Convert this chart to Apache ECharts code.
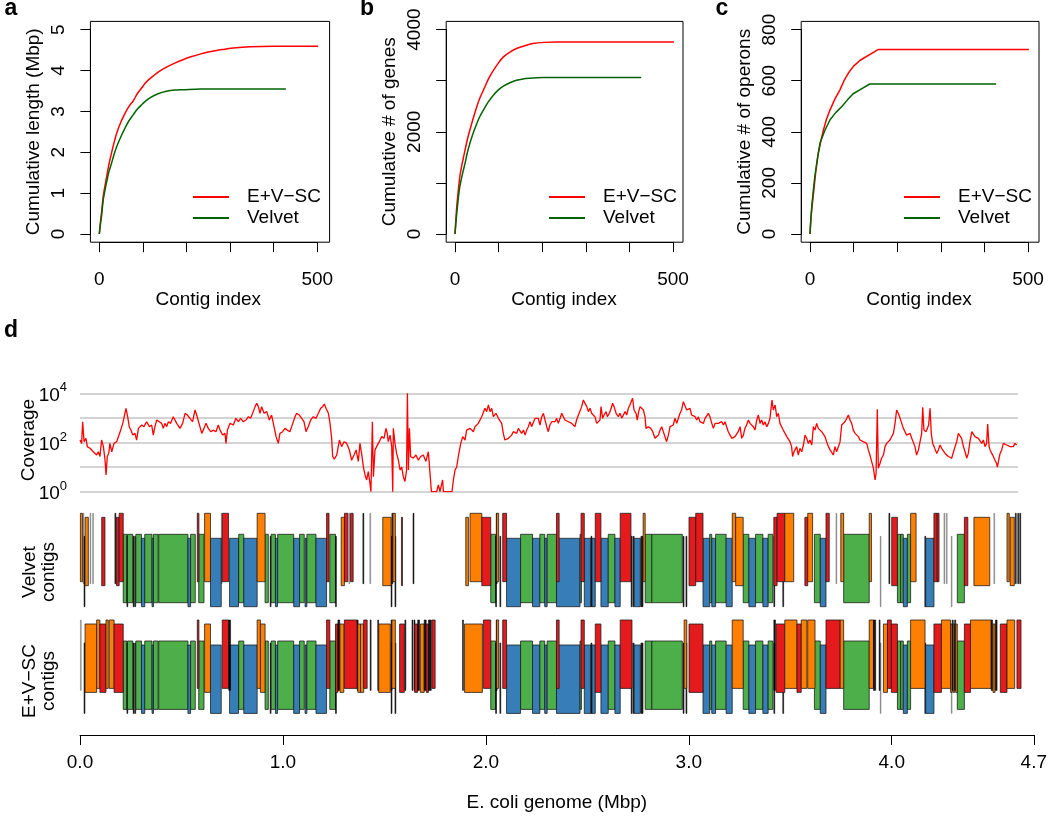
<!DOCTYPE html>
<html><head><meta charset="utf-8">
<script src="https://cdn.jsdelivr.net/npm/echarts@6/dist/echarts.min.js"></script>
<style>html,body{margin:0;padding:0;background:#fff}#c{width:1050px;height:822px}</style>
</head><body><div id="c"></div>
<script>
// ---------- Panel a/b/c data: [contig index, cumulative value] ----------
const lenEVSC = [[0,0],[3,0.33],[5,0.51],[9,0.92],[13,1.18],[17,1.41],[22,1.70],[28,1.98],[34,2.24],[40,2.47],[50,2.75],[59,2.95],[68,3.12],[78,3.26],[87,3.43],[97,3.57],[106,3.70],[116,3.80],[135,3.96],[154,4.08],[173,4.18],[193,4.27],[212,4.34],[231,4.40],[250,4.45],[269,4.49],[288,4.52],[307,4.55],[346,4.58],[400,4.59],[502,4.59]];
const lenVelvet = [[0,0],[3,0.27],[5,0.42],[9,0.83],[13,1.07],[17,1.28],[22,1.52],[28,1.73],[34,1.95],[40,2.14],[50,2.39],[59,2.59],[68,2.77],[78,2.92],[87,3.05],[97,3.16],[106,3.25],[116,3.33],[135,3.43],[154,3.49],[173,3.52],[193,3.53],[231,3.55],[428,3.55]];
const genesEVSC = [[0,0],[2,290],[4,534],[7,800],[11,1120],[17,1400],[23,1640],[28,1840],[34,2030],[42,2270],[50,2490],[57,2660],[65,2810],[76,3020],[88,3200],[99,3340],[111,3466],[126,3560],[141,3630],[160,3685],[179,3726],[205,3750],[233,3759],[502,3759]];
const genesVelvet = [[0,0],[2,210],[4,404],[7,650],[11,925],[17,1170],[23,1381],[28,1580],[34,1772],[42,1980],[50,2163],[57,2300],[65,2423],[76,2580],[88,2717],[99,2815],[111,2893],[126,2960],[141,3010],[156,3035],[172,3049],[187,3058],[202,3062],[427,3062]];
const operonsEVSC = [[0,0],[2,60],[4,95],[8,159],[13,240],[19,316],[25,365],[31,408],[38,450],[46,486],[57,528],[69,565],[78,600],[88,630],[100,657],[115,680],[156,722],[502,722]];
const operonsVelvet = [[0,0],[2,60],[4,107],[7,160],[11,225],[17,295],[23,356],[34,405],[46,447],[59,475],[73,499],[86,525],[99,549],[118,568],[137,587],[427,587]];
const seriesNames = ['E+V\u2212SC', 'Velvet'];

// ---------- Panel d: coverage along genome (Mbp, coverage) ----------
const covPos = [0.000,0.008,0.013,0.020,0.029,0.036,0.049,0.065,0.082,0.090,0.098,0.106,0.115,0.123,0.128,0.134,0.141,0.147,0.156,0.167,0.180,0.188,0.200,0.210,0.216,0.226,0.234,0.242,0.250,0.259,0.270,0.278,0.287,0.295,0.303,0.314,0.327,0.341,0.352,0.360,0.368,0.377,0.390,0.401,0.409,0.417,0.426,0.434,0.445,0.458,0.475,0.491,0.504,0.516,0.527,0.540,0.553,0.565,0.573,0.589,0.598,0.609,0.619,0.630,0.642,0.655,0.668,0.679,0.688,0.701,0.712,0.717,0.724,0.737,0.753,0.766,0.778,0.789,0.802,0.815,0.827,0.838,0.851,0.860,0.868,0.876,0.884,0.892,0.904,0.917,0.930,0.941,0.953,0.963,0.974,0.982,0.995,1.007,1.018,1.031,1.045,1.056,1.064,1.077,1.089,1.100,1.110,1.121,1.133,1.146,1.159,1.171,1.182,1.192,1.200,1.208,1.220,1.228,1.236,1.241,1.249,1.261,1.274,1.285,1.297,1.310,1.323,1.334,1.346,1.356,1.367,1.375,1.383,1.392,1.400,1.408,1.416,1.424,1.429,1.436,1.441,1.449,1.457,1.470,1.482,1.493,1.503,1.509,1.514,1.523,1.531,1.536,1.539,1.547,1.555,1.564,1.572,1.580,1.588,1.596,1.604,1.608,1.613,1.618,1.624,1.637,1.650,1.662,1.673,1.686,1.699,1.711,1.719,1.726,1.752,1.760,1.768,1.781,1.785,1.827,1.834,1.842,1.850,1.858,1.870,1.880,1.891,1.899,1.907,1.916,1.924,1.932,1.940,1.948,1.956,1.965,1.973,1.981,1.989,1.997,2.006,2.014,2.022,2.030,2.043,2.055,2.063,2.071,2.079,2.087,2.096,2.104,2.112,2.120,2.128,2.137,2.145,2.153,2.161,
2.169,2.178,2.186,2.194,2.202,2.210,2.218,2.227,2.235,2.243,2.251,2.259,2.268,2.276,2.284,2.292,2.300,2.308,2.317,2.325,2.333,2.341,2.349,2.358,2.366,2.374,2.382,2.390,2.399,2.407,2.415,2.423,2.431,2.439,2.448,2.456,2.464,2.472,2.480,2.489,2.497,2.505,2.513,2.521,2.529,2.538,2.546,2.554,2.559,2.567,2.574,2.584,2.590,2.600,2.606,2.616,2.623,2.633,2.644,2.652,2.661,2.669,2.677,2.685,2.693,2.701,2.710,2.714,2.721,2.731,2.737,2.744,2.751,2.759,2.767,2.775,2.780,2.791,2.803,2.813,2.824,2.832,2.841,2.849,2.857,2.865,2.873,2.881,2.890,2.898,2.906,2.914,2.922,2.931,2.939,2.947,2.955,2.963,2.972,2.980,2.988,2.996,3.004,3.013,3.021,3.029,3.037,3.045,3.053,3.062,3.070,3.078,3.086,3.094,3.103,3.111,3.119,3.127,3.135,3.144,3.152,3.160,3.168,3.176,3.184,3.193,3.201,3.209,3.217,3.225,3.233,3.242,3.250,3.258,3.266,3.274,3.283,3.291,3.299,3.307,3.315,3.324,3.332,3.340,3.348,3.356,3.364,3.373,3.381,3.389,3.394,3.399,3.405,3.414,3.422,3.430,3.438,3.446,3.454,3.463,3.471,3.479,3.487,3.495,3.500,3.507,3.513,3.520,3.528,3.536,3.545,3.553,3.561,3.569,3.577,3.585,3.594,3.602,3.610,3.618,3.626,3.635,3.643,3.651,3.659,3.667,3.676,3.684,3.692,3.700,3.708,3.716,3.725,3.733,3.741,3.749,3.757,3.766,3.774,3.782,3.790,3.798,3.807,3.815,3.823,3.831,3.839,3.847,3.856,3.864,3.872,3.880,3.888,3.897,3.905,3.910,3.916,3.921,3.929,3.937,3.946,3.954,3.962,3.970,3.978,3.987,3.995,4.003,4.011,4.019,4.028,4.036,4.044,4.052,4.060,4.068,4.077,4.085,4.093,4.101,4.109,4.118,4.126,4.134,4.139,4.145,4.155,4.162,4.168,4.175,4.181,4.188,4.195,4.199,4.208,4.216,4.224,4.232,4.240,4.249,4.257,4.265,4.273,4.281,4.289,4.298,4.306,4.314,4.322,4.330,4.339,4.347,4.355,4.363,4.371,4.380,4.388,4.396,4.404,4.412,4.420,4.429,4.437,4.445,4.453,4.458,4.465,4.470,4.478,4.486,4.494,4.502,4.506,4.512,4.519,4.527,4.535,4.543,4.551,4.560,4.568,4.576,4.584,4.592,4.600];
const covVal = [126,92,700,108,148,68,58,42,31,42,27,126,68,19,4.8,27,36,92,42,92,108,126,320,600,515,2450,1120,440,320,200,235,126,375,320,515,440,700,440,515,200,440,820,700,600,375,600,440,700,600,1120,600,375,600,1540,1310,960,700,2100,1310,440,235,375,600,375,275,320,275,515,320,200,235,92,320,600,515,960,700,960,700,820,1120,960,1800,2870,3920,2870,1540,2870,1540,1800,820,1310,440,173,92,235,275,375,320,275,600,1120,1540,1310,960,700,275,440,820,1120,960,1540,2450,2870,3680,2450,1540,600,148,27,21,31,126,68,108,92,50,19,31,50,17,92,36,10,4.8,3,6.5,2.2,1,700,4.1,50,68,108,173,148,375,235,108,200,68,1,375,92,36,19,7.6,10,4.1,2.6,7.6,10000,7.6,375,27,23,31,19,27,31,17,42,36,1,1,1.9,1,3,1,1,3,7.6,10,27,92,173,126,320,275,375,320,275,440,375,600,700,1120,1310,2450,1800,3350,1800,2450,1120,1540,960,1120,600,235,126,108,148,173,200,275,320,235,375,440,
235,320,200,320,440,700,440,515,960,820,
960,515,1120,1540,820,440,275,515,700,820,
700,960,600,960,1540,1120,820,960,700,820,
600,700,440,820,1310,1540,2870,5350,4580,2870,
1800,2450,1540,1800,1120,600,515,820,2870,960,
1310,1800,1120,1540,2100,3920,2870,1540,1120,1540,
960,1310,1800,1310,2450,3350,2870,6270,2100,1540,
820,1800,2870,3350,2100,1120,375,440,375,275,
148,126,200,320,440,275,173,108,200,440,
375,515,960,600,700,1540,2100,4580,3920,2100,
1800,2450,1310,1540,1120,820,1120,700,820,600,
960,1120,1540,1120,600,375,600,515,600,600,
700,515,700,820,275,200,148,126,173,148,
275,440,148,200,375,515,820,600,700,440,
320,820,1310,600,820,515,700,440,600,960,
2450,5350,2100,3350,1120,1540,600,700,320,235,
173,148,108,68,27,42,36,68,31,58,
42,79,200,148,92,126,79,440,320,600,
375,440,275,320,173,108,68,50,58,31,
68,42,68,108,515,600,700,960,1310,820,
600,320,235,200,173,126,148,108,108,92,
50,31,17,8.9,3,5.6,2230,8.9,14,23,
31,68,92,108,126,148,235,600,2100,1540,
960,600,375,275,200,173,235,148,126,68,
31,50,58,235,2700,320,275,375,515,2450,
235,92,68,58,36,50,79,58,50,36,
31,27,23,23,27,68,108,235,200,148,
68,42,23,36,108,275,235,173,200,148,
173,92,126,68,92,565,68,50,36,27,
19,14,10,19,36,50,92,108,79,92,
68,79,68,92,79];
const covTicks = [1, 100, 10000];
const genomeTicks = [0, 1, 2, 3, 4, 4.7];

// ---------- Panel d: contigs [start Mbp, end Mbp, class] ----------
// G/B: contigs in lower band (shared by both assemblies); O/R: upper band (h/l = staggered row); k/w: tiny contigs
const sharedContigs = [[0.020,0.023,'k'],[0.213,0.231,'G'],[0.231,0.234,'k'],[0.234,0.260,'G'],[0.262,0.265,'k'],[0.270,0.273,'k'],[0.275,0.303,'G'],[0.303,0.319,'B'],[0.319,0.355,'G'],[0.355,0.362,'B'],[0.362,0.385,'G'],[0.388,0.532,'G'],[0.532,0.545,'B'],[0.545,0.568,'G'],[0.585,0.611,'G'],[0.643,0.696,'B'],[0.737,0.781,'B'],[0.782,0.807,'G'],[0.807,0.873,'B'],[0.912,0.928,'G'],[0.937,0.940,'k'],[0.942,0.963,'G'],[0.963,0.973,'B'],[0.974,1.053,'G'],[1.053,1.082,'B'],[1.082,1.105,'G'],[1.109,1.118,'B'],[1.118,1.163,'G'],[1.163,1.215,'B'],[1.231,1.259,'G'],[1.259,1.262,'k'],[1.533,1.535,'k'],[1.552,1.555,'k'],[2.024,2.048,'G'],[2.048,2.052,'k'],[2.069,2.073,'k'],[2.102,2.171,'B'],[2.171,2.230,'G'],[2.230,2.266,'B'],[2.266,2.290,'G'],[2.290,2.302,'B'],[2.302,2.348,'G'],[2.348,2.464,'B'],[2.464,2.471,'G'],[2.485,2.518,'B'],[2.518,2.521,'k'],[2.523,2.539,'B'],[2.567,2.603,'B'],[2.603,2.636,'G'],[2.636,2.662,'B'],[2.716,2.721,'k'],[2.726,2.729,'k'],[2.731,2.761,'B'],[2.764,2.767,'k'],[2.770,2.773,'k'],[2.785,2.818,'G'],[2.818,2.968,'G'],[2.972,2.975,'k'],[2.986,2.989,'k'],[3.070,3.103,'B'],[3.103,3.113,'G'],[3.113,3.132,'B'],[3.132,3.184,'G'],[3.184,3.214,'B'],[3.268,3.296,'G'],[3.296,3.329,'B'],[3.329,3.365,'G'],[3.365,3.391,'B'],[3.391,3.414,'G'],[3.419,3.422,'k'],[3.463,3.466,'k'],[3.619,3.648,'G'],[3.648,3.676,'B'],[3.763,3.889,'G'],[3.943,3.945,'w'],[4.028,4.044,'G'],[4.044,4.057,'G'],[4.057,4.077,'B'],[4.077,4.093,'G'],[4.163,4.167,'k'],[4.167,4.208,'B'],[4.293,4.296,'w'],[4.323,4.358,'G']];
const velvetContigs = [[0.002,0.012,'Oh'],[0.015,0.016,'w'],[0.025,0.041,'Ol'],[0.049,0.050,'w'],[0.062,0.063,'w'],[0.107,0.123,'Rl'],[0.172,0.174,'k'],[0.180,0.193,'Rl'],[0.193,0.213,'Rh'],[0.578,0.586,'Rh'],[0.614,0.643,'Oh'],[0.696,0.699,'w'],[0.701,0.732,'Rh'],[0.873,0.912,'Oh'],[1.215,1.227,'Rh'],[1.287,1.303,'Ol'],[1.303,1.320,'Rh'],[1.325,1.328,'w'],[1.333,1.346,'Rh'],[1.394,1.396,'k'],[1.428,1.430,'w'],[1.492,1.533,'Ol'],[1.537,1.540,'k'],[1.542,1.554,'Oh'],[1.584,1.589,'Rl'],[1.641,1.644,'k'],[1.901,1.914,'Ol'],[1.922,1.980,'Oh'],[1.980,2.024,'Rl'],[2.051,2.053,'k'],[2.053,2.063,'Oh'],[2.083,2.102,'Rh'],[2.348,2.361,'Rh'],[2.469,2.485,'Rh'],[2.539,2.567,'Rh'],[2.662,2.715,'Rh'],[2.775,2.785,'Oh'],[3.001,3.034,'Rl'],[3.034,3.070,'Rh'],[3.214,3.231,'Oh'],[3.231,3.268,'Ol'],[3.419,3.435,'Rl'],[3.435,3.473,'Rh'],[3.473,3.517,'Oh'],[3.572,3.586,'Rl'],[3.586,3.610,'Oh'],[3.676,3.692,'Rh'],[3.725,3.727,'w'],[3.749,3.763,'Oh'],[3.889,3.900,'Oh'],[3.986,3.989,'k'],[4.000,4.028,'Rl'],[4.093,4.120,'Oh'],[4.208,4.224,'Rh'],[4.224,4.233,'Rh'],[4.257,4.260,'w'],[4.269,4.271,'w'],[4.358,4.375,'Rl'],[4.405,4.483,'Ol'],[4.503,4.505,'w'],[4.568,4.579,'Oh'],[4.584,4.604,'Ol'],[4.609,4.611,'k'],[4.621,4.623,'k'],[4.631,4.633,'k']];
const evscContigs = [[0.002,0.005,'w'],[0.025,0.082,'Ol'],[0.082,0.098,'Oh'],[0.098,0.128,'Rl'],[0.128,0.139,'Oh'],[0.144,0.168,'Oh'],[0.168,0.213,'Rl'],[0.578,0.586,'Rh'],[0.614,0.643,'Ol'],[0.701,0.732,'Rh'],[0.733,0.742,'k'],[0.873,0.889,'Oh'],[0.889,0.912,'Ol'],[1.215,1.231,'Rh'],[1.259,1.271,'Rl'],[1.271,1.280,'k'],[1.281,1.300,'Ol'],[1.303,1.366,'Rh'],[1.366,1.368,'k'],[1.369,1.382,'Ol'],[1.382,1.398,'Ol'],[1.398,1.415,'Rh'],[1.430,1.433,'k'],[1.467,1.470,'k'],[1.472,1.529,'Ol'],[1.533,1.535,'k'],[1.537,1.554,'Oh'],[1.575,1.598,'Rl'],[1.601,1.605,'k'],[1.636,1.640,'k'],[1.646,1.649,'k'],[1.649,1.664,'Rl'],[1.664,1.673,'k'],[1.677,1.696,'Ol'],[1.696,1.706,'k'],[1.706,1.717,'Rl'],[1.717,1.731,'k'],[1.734,1.750,'Rh'],[1.885,1.889,'k'],[1.895,1.983,'Ol'],[1.988,2.024,'Rh'],[2.051,2.053,'k'],[2.053,2.063,'Oh'],[2.083,2.102,'Rh'],[2.348,2.361,'Rh'],[2.469,2.485,'Rh'],[2.539,2.567,'Rl'],[2.662,2.720,'Rh'],[2.977,2.990,'Oh'],[3.001,3.070,'Rl'],[3.214,3.268,'Oh'],[3.419,3.427,'k'],[3.430,3.473,'Rl'],[3.473,3.533,'Oh'],[3.533,3.554,'Rl'],[3.554,3.582,'Oh'],[3.586,3.622,'Oh'],[3.676,3.746,'Rh'],[3.746,3.763,'Oh'],[3.889,3.910,'Oh'],[3.910,3.921,'k'],[3.938,3.940,'k'],[3.959,3.979,'Ol'],[3.979,3.998,'Rh'],[3.998,4.028,'Rl'],[4.093,4.164,'Oh'],[4.208,4.245,'Rl'],[4.245,4.290,'Oh'],[4.290,4.298,'Ol'],[4.298,4.303,'k'],[4.303,4.310,'Ol'],[4.310,4.315,'k'],[4.315,4.323,'Ol'],[4.358,4.388,'Rl'],[4.388,4.490,'Oh'],[4.490,4.497,'k'],[4.499,4.509,'Ol'],[4.511,4.519,'k'],[4.535,4.568,'Rl'],[4.568,4.606,'Oh'],[4.617,4.637,'Rh']];

// ---------- rendering ----------
const FONT = 'Liberation Sans, Arial, Helvetica, sans-serif';
const RED = '#FF0000', DKGREEN = '#006400';
const chart = echarts.init(document.getElementById('c'), null, {renderer: 'canvas'});

const panelCfg = [
  {left: 99.3, boxL: 90.4, boxR: 329.6, yMax: 5, yStep: 1, yLab: v => String(v), title: 'Cumulative length (Mbp)', d: [lenEVSC, lenVelvet], smooth: 0.3, legendLeft: 193},
  {left: 455, boxL: 446.2, boxR: 683, yMax: 4000, yStep: 1000, yLab: v => (v % 2000 === 0 ? String(v) : ''), title: 'Cumulative # of genes', d: [genesEVSC, genesVelvet], smooth: 0.3, legendLeft: 549},
  {left: 810, boxL: 801.2, boxR: 1039, yMax: 800, yStep: 200, yLab: v => String(v), title: 'Cumulative # of operons', d: [operonsEVSC, operonsVelvet], smooth: false, legendLeft: 904}
];
const GTOP = 29.6, GH = 204.4, BOXT = 21.4, BOXB = 242.2;

const grids = [], xAxes = [], yAxes = [], series = [], legends = [], graphics = [];
const txt = (extra) => Object.assign({color: '#000', fontFamily: FONT, fontSize: 19}, extra || {});

panelCfg.forEach((p, i) => {
  grids.push({left: p.left, top: GTOP, width: 218, height: GH});
  xAxes.push({gridIndex: i, type: 'value', min: 0, max: 500, interval: 100, offset: BOXB - (GTOP + GH),
    axisLine: {show: true, onZero: false, lineStyle: {color: '#000', width: 1}},
    axisTick: {show: true, length: 10, inside: false, lineStyle: {color: '#000', width: 1}},
    axisLabel: txt({interval: 0, margin: 28, formatter: v => (v === 0 || v === 500) ? String(v) : ''}),
    splitLine: {show: false},
    name: 'Contig index', nameLocation: 'middle', nameGap: 47, nameTextStyle: txt()});
  yAxes.push({gridIndex: i, type: 'value', min: 0, max: p.yMax, interval: p.yStep, offset: p.left - p.boxL,
    axisLine: {show: true, onZero: false, lineStyle: {color: '#000', width: 1}},
    axisTick: {show: true, length: 10, inside: false, lineStyle: {color: '#000', width: 1}},
    axisLabel: txt({rotate: 90, interval: 0, margin: 22, formatter: p.yLab}),
    splitLine: {show: false},
    name: p.title, nameLocation: 'middle', nameGap: 47, nameRotate: 90, nameTextStyle: txt()});
  [RED, DKGREEN].forEach((col, k) => {
    series.push({type: 'line', name: seriesNames[k], xAxisIndex: i, yAxisIndex: i, data: p.d[k],
      showSymbol: false, symbol: 'none', clip: false, smooth: p.smooth,
      lineStyle: {color: col, width: 1.5}, itemStyle: {color: col}, silent: true});
  });
  legends.push({left: p.legendLeft, top: 186.5, orient: 'vertical', padding: 0, itemGap: 0,
    itemWidth: 36, itemHeight: 2, icon: 'rect', selectedMode: false, data: seriesNames,
    textStyle: txt({lineHeight: 21, padding: [0, 0, 0, 13]})});
  graphics.push({type: 'rect', silent: true, z: 50,
    shape: {x: p.boxL, y: BOXT, width: p.boxR - p.boxL, height: BOXB - BOXT},
    style: {fill: 'none', stroke: '#000', lineWidth: 1}});
});

// coverage grid (index 3)
grids.push({left: 80, top: 393.3, width: 938, height: 98.4});
xAxes.push({gridIndex: 3, type: 'value', min: 0, max: 4.607, show: false});
yAxes.push({gridIndex: 3, type: 'log', logBase: 10, min: 1, max: 10000, splitNumber: 4,
  axisLine: {show: false, onZero: false}, axisTick: {show: false},
  splitLine: {show: true, lineStyle: {color: '#c4c4c4', width: 1.6}},
  axisLabel: {margin: 13, color: '#000', fontFamily: FONT,
    formatter: v => { const e = Math.round(Math.log10(v)); return covTicks.indexOf(v) >= 0 || e % 2 === 0 ? '{b|10}{s|' + e + '}' : ''; },
    rich: {b: {fontSize: 19, fontFamily: FONT, color: '#000', lineHeight: 24, verticalAlign: 'bottom'},
           s: {fontSize: 13, fontFamily: FONT, color: '#000', lineHeight: 13, verticalAlign: 'top'}}}});
series.push({type: 'line', name: 'Coverage', xAxisIndex: 3, yAxisIndex: 3,
  data: covPos.map((p, i) => [p, covVal[i]]), showSymbol: false, symbol: 'none',
  lineStyle: {color: RED, width: 1.3}, itemStyle: {color: RED}, silent: true, clip: true});

// contig grid (index 4)
const TRACK_OFF = 106.7;
const lanes = {Oh: [8.3, 76.7], Rh: [8.3, 76.7], Ol: [12.3, 80.7], Rl: [12.3, 80.7], G: [29.3, 97.7], B: [33.3, 101.7], ku: [8.3, 78.7], kl: [31.3, 101.7]};
const fills = {O: '#FF7F00', R: '#E41A1C', G: '#4DAF4A', B: '#377EB8'};
grids.push({left: 80, top: 505, width: 957, height: 215});
xAxes.push({gridIndex: 4, type: 'value', min: 0, max: 4.7, interval: 1, offset: 15,
  axisLine: {show: true, onZero: false, lineStyle: {color: '#000', width: 1}},
  axisTick: {show: true, length: 10, lineStyle: {color: '#000', width: 1}},
  axisLabel: txt({margin: 18, showMaxLabel: true, showMinLabel: true, interval: 0,
    formatter: v => (genomeTicks.some(t => Math.abs(t - v) < 1e-6) ? v.toFixed(1) : '')}),
  splitLine: {show: false},
  name: 'E. coli genome (Mbp)', nameLocation: 'middle', nameGap: 58, nameTextStyle: txt()});
yAxes.push({gridIndex: 4, type: 'value', min: 0, max: 215, inverse: true, show: false});

function buildItems(track, lower, upper) {
  const items = [];
  lower.forEach(c => items.push({s: c[0], e: c[1], track, code: c[2], band: 'lower'}));
  upper.forEach(c => items.push({s: c[0], e: c[1], track, code: c[2], band: 'upper'}));
  return items;
}
[[0, velvetContigs, 'Velvet contigs'], [1, evscContigs, 'E+V\u2212SC contigs']].forEach(([track, upper, nm]) => {
  const items = buildItems(track, sharedContigs, upper);
  series.push({type: 'custom', name: nm, xAxisIndex: 4, yAxisIndex: 4, silent: true, clip: false,
    data: items.map(it => [it.s, it.e, it.track]),
    encode: {x: [0, 1]},
    renderItem: (params, api) => {
      const it = items[params.dataIndex];
      const x1 = api.coord([api.value(0), 0])[0];
      const x2 = api.coord([api.value(1), 0])[0];
      let laneKey = it.code, fill, stroke = 'rgba(25,25,25,0.85)', thin = false;
      if (it.code === 'k' || it.code === 'w') {
        laneKey = it.band === 'upper' ? 'ku' : 'kl';
        thin = true;
        stroke = it.code === 'k' ? 'rgba(0,0,0,0.9)' : 'rgba(0,0,0,0.35)';
        fill = stroke;
      } else {
        fill = fills[it.code[0]];
      }
      const lane = lanes[laneKey];
      const off = it.track * TRACK_OFF;
      const y1 = api.coord([0, lane[0] + off])[1];
      const y2 = api.coord([0, lane[1] + off])[1];
      const w = Math.max(x2 - x1, thin ? 0.9 : 1);
      return {type: 'rect', shape: {x: x1, y: y1, width: w, height: y2 - y1},
        style: {fill: fill, stroke: stroke, lineWidth: thin ? 0.6 : 0.9}};
    }});
});

// labels
const letter = (t, x, y) => ({type: 'text', silent: true, x, y, style: {text: t, font: 'bold 23px ' + FONT, fill: '#000', textAlign: 'center', textVerticalAlign: 'middle'}});
graphics.push(letter('a', 11, 9), letter('b', 367, 9), letter('c', 722, 9), letter('d', 11, 331));
const vtext = (t, x, y) => ({type: 'text', silent: true, x, y, rotation: Math.PI / 2,
  style: {text: t, font: '19px ' + FONT, fill: '#000', textAlign: 'center', textVerticalAlign: 'middle', lineHeight: 19}});
graphics.push(vtext('Coverage', 29, 440), vtext('Velvet\ncontigs', 39, 572), vtext('E+V\u2212SC\ncontigs', 39, 681));

chart.setOption({
  animation: false,
  backgroundColor: '#fff',
  textStyle: {fontFamily: FONT},
  grid: grids, xAxis: xAxes, yAxis: yAxes, series: series, legend: legends,
  graphic: {elements: graphics}
});
</script></body></html>
